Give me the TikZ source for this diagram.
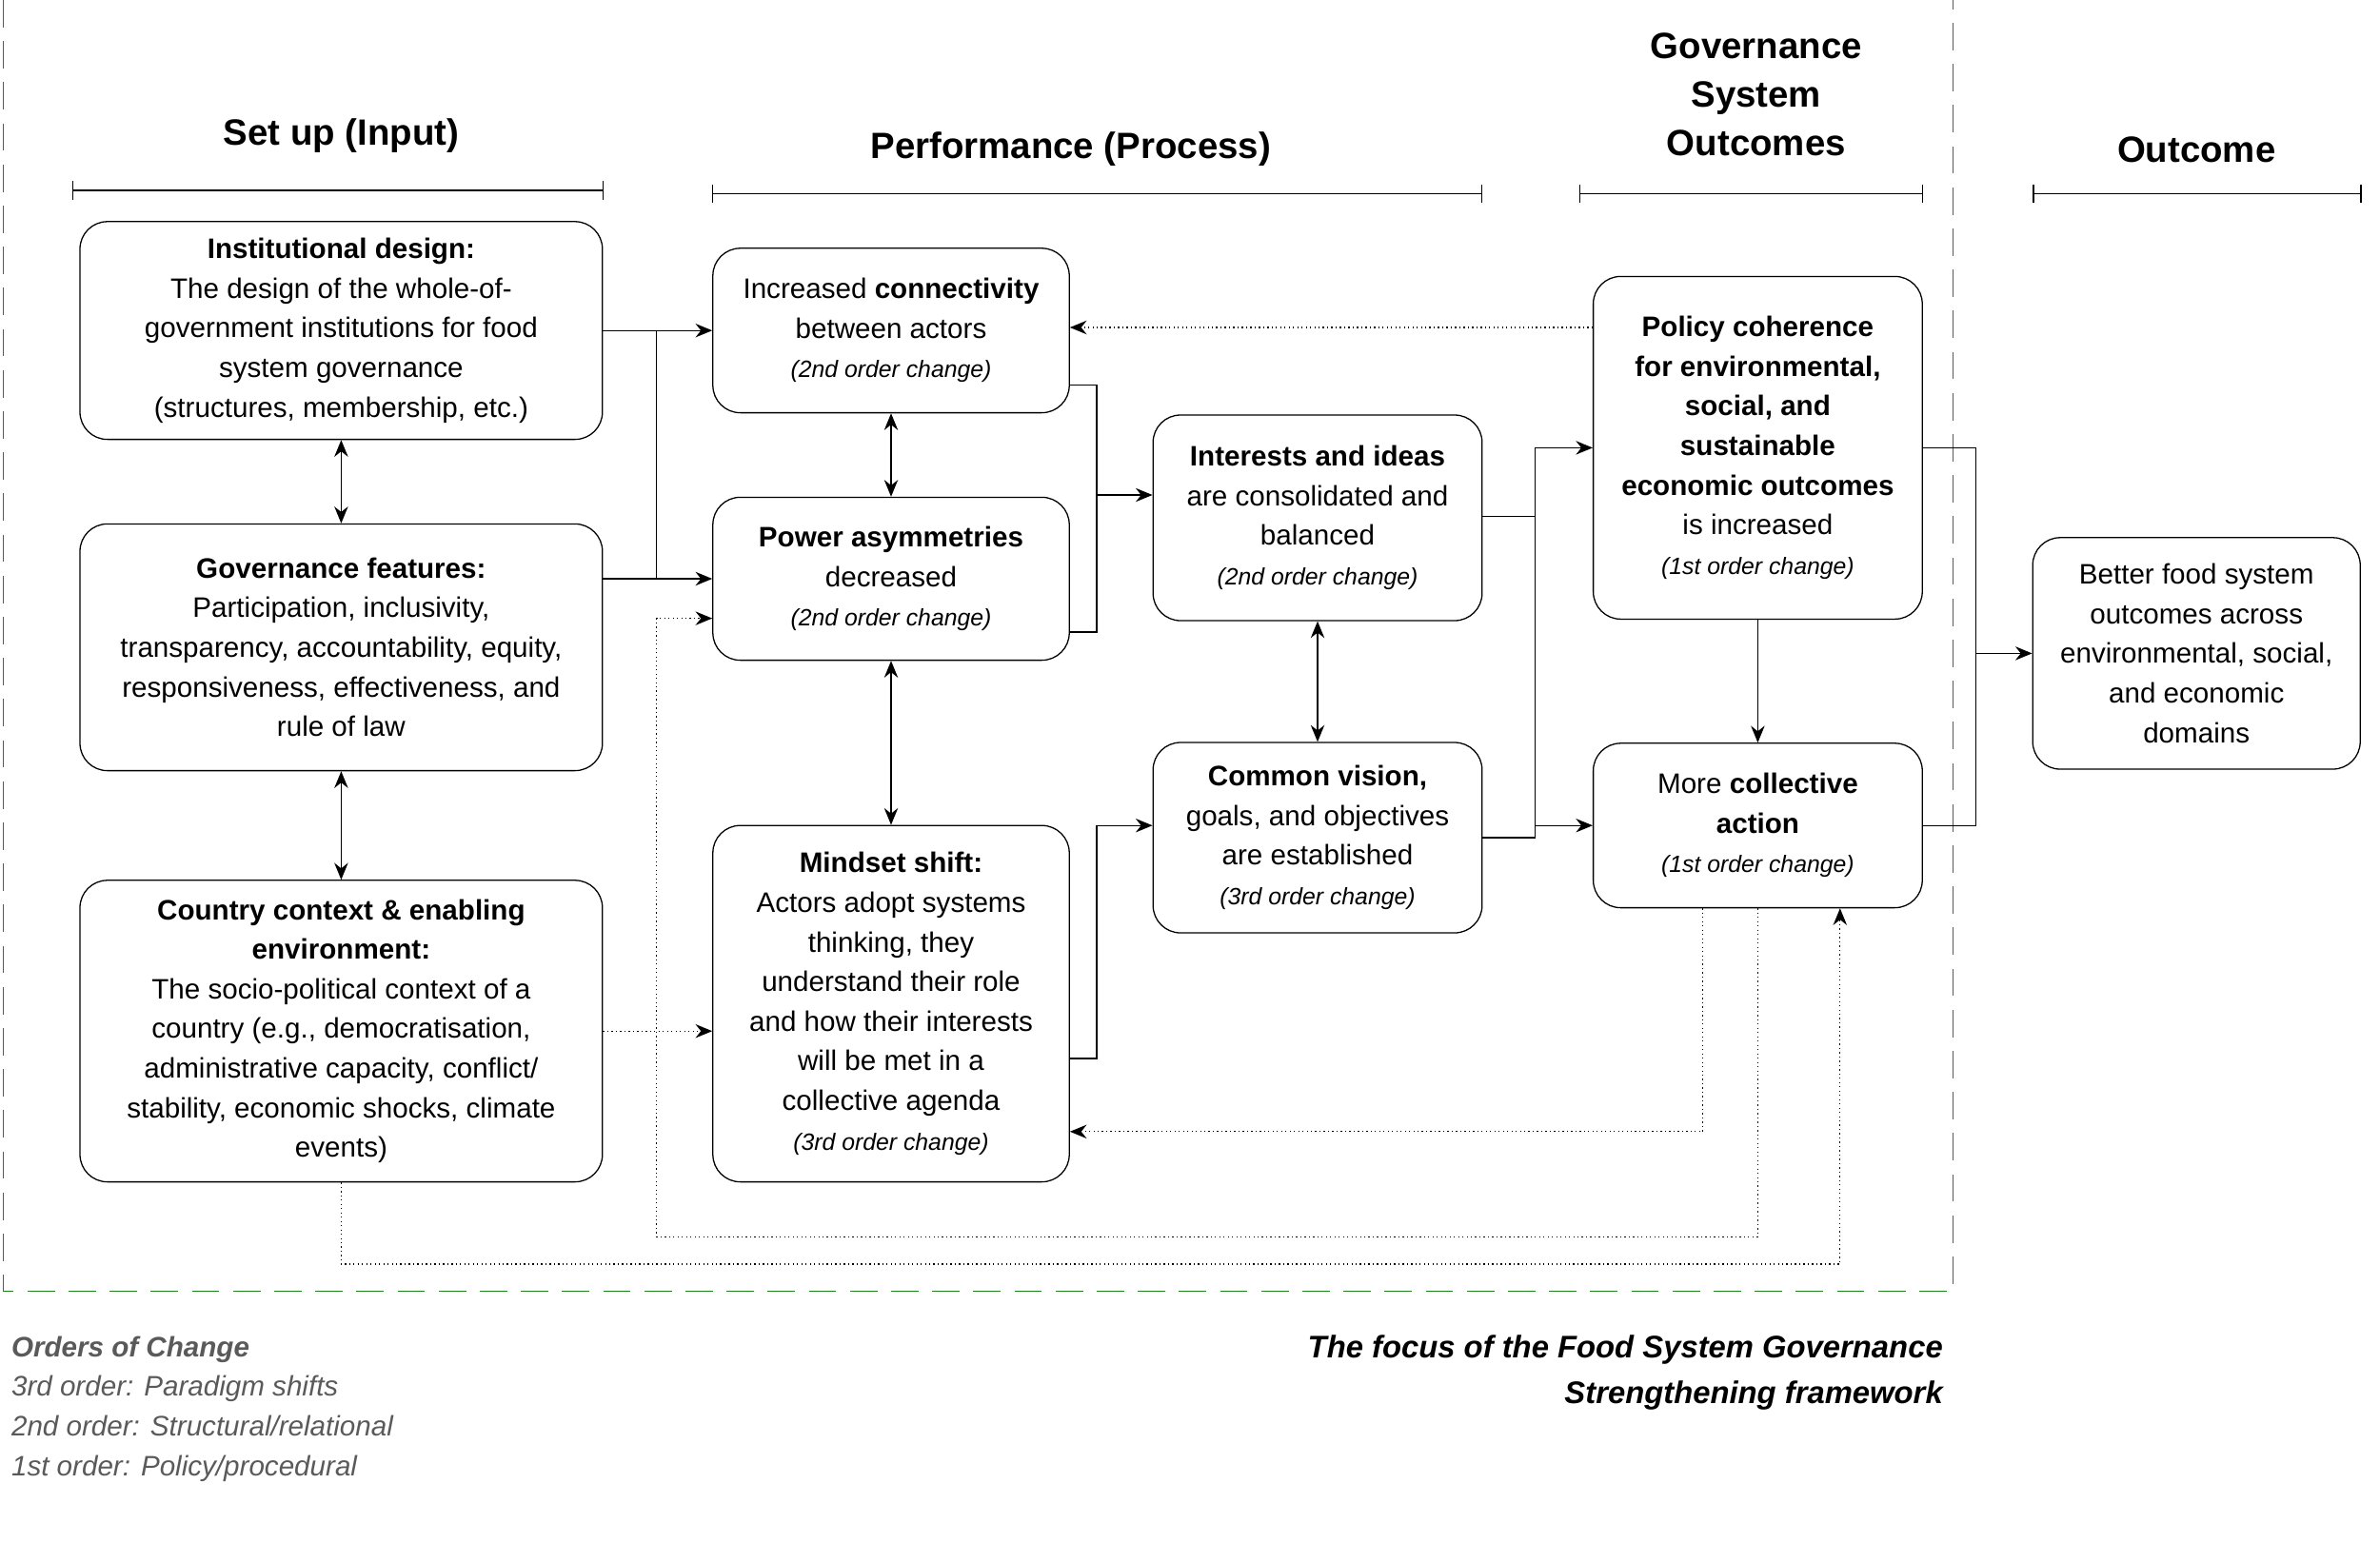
\documentclass[tikz,border=0pt]{standalone}
\usepackage{fontspec}
\setmainfont{Liberation Sans}
\usetikzlibrary{arrows.meta}
\definecolor{dgreen}{RGB}{30,130,30}
\definecolor{lgray}{RGB}{90,90,90}
\begin{document}
\begin{tikzpicture}[x=1pt,y=-1pt,
 box/.style={draw,thick,rounded corners=18pt,align=center,inner sep=0pt,font=\fontsize{18.5}{26}\selectfont},
 ar/.style={thick,-{Stealth[length=11pt,width=9pt]}},
 dar/.style={thick,{Stealth[length=11pt,width=9pt]}-{Stealth[length=11pt,width=9pt]}},
 dot/.style={thick,dotted,-{Stealth[length=11pt,width=9pt]}},
 hd/.style={font=\fontsize{24}{32}\selectfont\bfseries,align=center},
 sm/.style={font=\fontsize{15.5}{20}\selectfont\itshape}]
\useasboundingbox (0,0) rectangle (1562.5,1012.5);
\draw[dgreen,thick,dash pattern=on 18pt off 9pt] (2,0) -- (2,848) -- (1282,848) -- (1282,0);
% headers
\node[hd] (h1) at (224,89) {Set up (Input)};
\node[hd] (h2) at (703,98) {Performance (Process)};
\node[hd] (h3) at (1153,62) {Governance\\System\\Outcomes};
\node[hd] (h4) at (1442,98) {Outcome};
\foreach \a/\b/\y in {48/396/125,468/973/127,1037/1262/127,1335/1550/127}{
 \draw[thick] (\a,\y) -- (\b,\y) (\a,\y-6) -- (\a,\y+6) (\b,\y-6) -- (\b,\y+6);}
% boxes
\node[box,minimum width=343pt,minimum height=143pt] (inst) at (224,217) {\textbf{Institutional design:}\\The design of the whole-of-\\government institutions for food\\system governance\\(structures, membership, etc.)};
\node[box,minimum width=343pt,minimum height=162pt] (gov) at (224,425) {\textbf{Governance features:}\\Participation, inclusivity,\\transparency, accountability, equity,\\responsiveness, effectiveness, and\\rule of law};
\node[box,minimum width=343pt,minimum height=198pt] (ctry) at (224,677) {\textbf{Country context \& enabling}\\\textbf{environment:}\\The socio-political context of a\\country (e.g., democratisation,\\administrative capacity, conflict/\\stability, economic shocks, climate\\events)};
\node[box,minimum width=234pt,minimum height=108pt] (conn) at (585,217) {Increased \textbf{connectivity}\\between actors\\{\fontsize{15.5}{26}\selectfont\itshape (2nd order change)}};
\node[box,minimum width=234pt,minimum height=107pt] (pow) at (585,380) {\textbf{Power asymmetries}\\decreased\\{\fontsize{15.5}{26}\selectfont\itshape (2nd order change)}};
\node[box,minimum width=234pt,minimum height=234pt] (mind) at (585,659) {\textbf{Mindset shift:}\\Actors adopt systems\\thinking, they\\understand their role\\and how their interests\\will be met in a\\collective agenda\\{\fontsize{15.5}{26}\selectfont\itshape (3rd order change)}};
\node[box,minimum width=216pt,minimum height=135pt] (int) at (865,340) {\textbf{Interests and ideas}\\are consolidated and\\balanced\\{\fontsize{15.5}{26}\selectfont\itshape (2nd order change)}};
\node[box,minimum width=216pt,minimum height=125pt] (com) at (865,550) {\textbf{Common vision,}\\goals, and objectives\\are established\\{\fontsize{15.5}{26}\selectfont\itshape (3rd order change)}};
\node[box,minimum width=216pt,minimum height=225pt] (pol) at (1154,294) {\textbf{Policy coherence}\\\textbf{for environmental,}\\\textbf{social, and}\\\textbf{sustainable}\\\textbf{economic outcomes}\\is increased\\{\fontsize{15.5}{26}\selectfont\itshape (1st order change)}};
\node[box,minimum width=216pt,minimum height=108pt] (col) at (1154,542) {More \textbf{collective}\\\textbf{action}\\{\fontsize{15.5}{26}\selectfont\itshape (1st order change)}};
\node[box,minimum width=215pt,minimum height=152pt] (out) at (1442,429) {Better food system\\outcomes across\\environmental, social,\\and economic\\domains};
% solid connectors
\draw[ar] (inst.east |- 0,217) -- (conn.west |- 0,217);
\draw[ar] (gov.east |- 0,380) -- (pow.west);
\draw[thick] (431,217) -- (431,380);
\draw[dar] (inst.south) -- (gov.north);
\draw[dar] (gov.south) -- (ctry.north);
\draw[dar] (conn.south) -- (pow.north);
\draw[dar] (pow.south) -- (mind.north);
\draw[dar] (int.south) -- (com.north);
\draw[thick] (conn.east |- 0,253) -- (720,253) -- (720,415) -- (pow.east |- 0,415);
\draw[ar] (720,325) -- (int.west |- 0,325);
\draw[thick] (mind.east |- 0,695) -- (720,695) -- (720,542);
\draw[ar] (720,542) -- (com.west |- 0,542);
\draw[thick] (int.east |- 0,339) -- (1008,339) -- (1008,294);
\draw[ar] (1008,294) -- (pol.west |- 0,294);
\draw[thick] (com.east |- 0,550) -- (1008,550) -- (1008,339);
\draw[ar] (1008,542) -- (col.west);
\draw[ar] (pol.south) -- (col.north);
\draw[thick] (pol.east |- 0,294) -- (1297,294) -- (1297,542) -- (col.east);
\draw[ar] (1297,429) -- (out.west);
% dotted connectors
\draw[dot] (pol.west |- 0,215) -- (conn.east |- 0,215);
\draw[dot] (ctry.east |- 0,677) -- (mind.west |- 0,677);
\draw[dot] (col.south -| 1118,0) -- (1118,743) -- (mind.east |- 0,743);
\draw[dot] (col.south) -- (1154,812) -- (431,812) -- (431,406) -- (pow.west |- 0,406);
\draw[dot] (ctry.south) -- (224,830) -- (1208,830) -- (col.south -| 1208,0);
% legend
\node[anchor=west,text=lgray,font=\fontsize{18.5}{26}\selectfont\itshape,align=left] (leg) at (4,925) {\textbf{Orders of Change}\\3rd order: Paradigm shifts\\2nd order: Structural/relational\\1st order: Policy/procedural};
\node[anchor=east,font=\fontsize{20.5}{30}\selectfont\bfseries\itshape,align=right] (foc) at (1279,901) {The focus of the Food System Governance\\Strengthening framework};
\end{tikzpicture}
\end{document}
